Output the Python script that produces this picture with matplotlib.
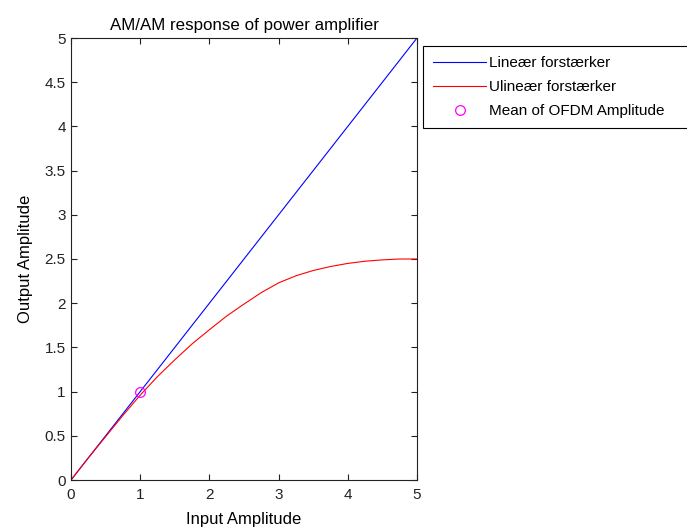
import numpy as np
import matplotlib
matplotlib.use('Agg')
import matplotlib.pyplot as plt

# data
lin_x = [0, 5]
lin_y = [0, 5]

ulin_x = [0, 0.25, 0.5, 0.75, 1, 1.25, 1.5, 1.75, 2, 2.25, 2.5,
          2.75, 3, 3.25, 3.5, 3.75, 4, 4.25, 4.5, 4.75, 5]
ulin_y = [0, 0.25, 0.49, 0.73, 0.96, 1.17, 1.36, 1.54, 1.70, 1.855, 1.99,
          2.12, 2.23, 2.31, 2.37, 2.415, 2.45, 2.475, 2.49, 2.50, 2.50]

mean_x = [1]
mean_y = [1]

labels = ['Lineær forstærker', 'Ulineær forstærker', 'Mean of OFDM Amplitude']
ticks_x = [0, 1, 2, 3, 4, 5]
ticks_y = [0, 0.5, 1, 1.5, 2, 2.5, 3, 3.5, 4, 4.5, 5]

plt.rcParams['font.family'] = ['Liberation Sans', 'DejaVu Sans']

W, H = 687, 529
fig = plt.figure(figsize=(W / 100, H / 100), dpi=100)
ax = fig.add_axes([71 / W, 1 - 480 / H, (417 - 71) / W, (480 - 38) / H])

ax.plot(lin_x, lin_y, color='#0000ff', lw=0.8, label=labels[0])
ax.plot(ulin_x, ulin_y, color='#ff0000', lw=0.8, label=labels[1])
ax.plot(mean_x, mean_y, 'o', mfc='none', mec='#ff00ff', ms=7, mew=0.9, label=labels[2])

ax.set_xlim(0, 5)
ax.set_ylim(0, 5)
ax.set_xticks(ticks_x)
ax.set_yticks(ticks_y)
ax.set_xticklabels([str(t) for t in ticks_x])
ax.set_yticklabels(['%g' % t for t in ticks_y])
ax.tick_params(direction='in', length=4, width=0.8, top=True, right=True,
               labelsize=11, colors='#222222')
ax.tick_params(axis='x', pad=6)
ax.tick_params(axis='y', pad=3.7)
for s in ax.spines.values():
    s.set_linewidth(0.8)
    s.set_color('#222222')

ax.set_title('AM/AM response of power amplifier', fontsize=12.2, pad=6)
ax.set_xlabel('Input Amplitude', fontsize=12, labelpad=7)
ax.set_ylabel('Output Amplitude', fontsize=12, labelpad=8.5)

# legend box runs off the right edge of the figure, as in the original
leg = ax.legend(loc='upper left',
                bbox_to_anchor=(423 / W, 1 - 130 / H, (690 - 423) / W, 84 / H),
                bbox_transform=fig.transFigure, borderaxespad=0, mode='expand',
                fancybox=False, edgecolor='black', framealpha=1, fontsize=11,
                handlelength=3.5, handletextpad=0.2, borderpad=0.65,
                labelspacing=0.67)
leg.get_frame().set_linewidth(0.8)

fig.savefig('out.png', dpi=100)
